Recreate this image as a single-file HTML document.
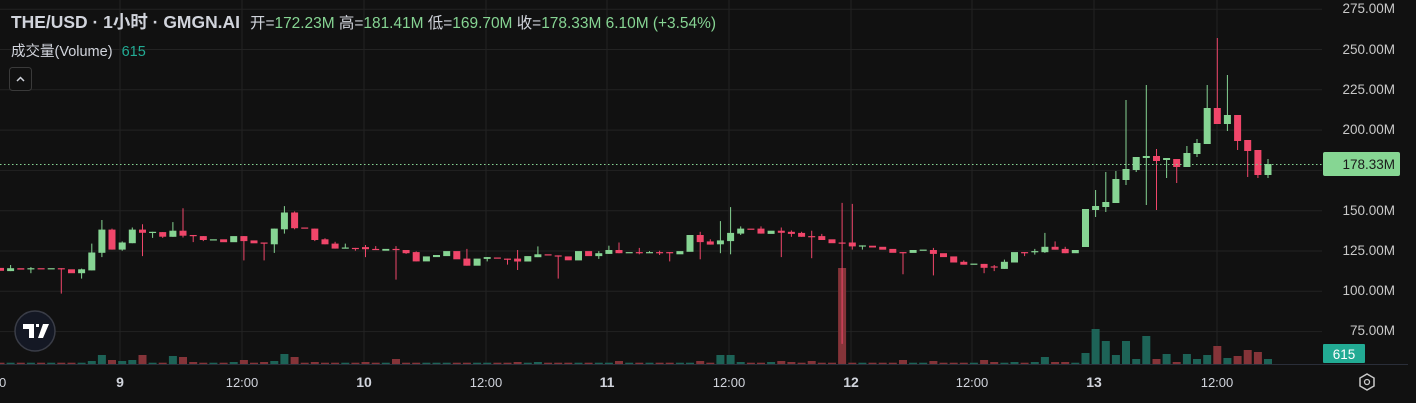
<!DOCTYPE html>
<html><head><meta charset="utf-8"><style>
html,body{margin:0;padding:0;background:#111111;width:1416px;height:403px;overflow:hidden}
#c{position:absolute;left:0;top:0}
.t{font-family:"Liberation Sans","Noto Sans CJK SC",sans-serif}
</style></head><body>
<svg id="c" width="1416" height="403" xmlns="http://www.w3.org/2000/svg"></svg>
<script>
const S=document.getElementById('c');let h='';
h+='<rect width="1416" height="403" fill="#111111"/>';
for(let p=275;p>=50;p-=25){const y=49.5+(250-p)*1.612;if(y<364)h+=`<line x1="0" x2="1322" y1="${y.toFixed(1)}" y2="${y.toFixed(1)}" stroke="#232323"/>`;}
[-1,120,242,364,486,607,729,851,972,1094,1217].forEach(x=>{h+=`<line x1="${x}" x2="${x}" y1="0" y2="364" stroke="#232323"/>`;});
const A=[
['r',218,226],['g',219,227,210,227],['r',219,223],['g',219,220,216,233],['r',219,220],['g',219,220],['r',219,220,219,290],['r',222,233],['g',222,233,220,248],['g',175,225,150,225],
['g',111,176,84,188],['r',111,167,108,167],['g',147,167,144,170],['g',111,149,105,149],['r',111,120,96,185],['g',117,119,117,134],['r',118,131,118,134],['g',114,131,90,131],['r',114,128,51,133],['r',126,128,126,146],
['r',129,140,129,143],['g',138,140],['r',138,146],['g',129,146],['r',129,143,129,197],['r',141,149],['r',147,149,147,197],['g',108,152,108,176],['g',63,110,45,122],['r',63,107,60,110],
['r',105,107],['r',108,140,108,143],['r',138,152,135,152],['r',150,164,145,164],['g',161,163,150,163],['r',162,164,162,170],['r',160,166,154,188],['r',165,167,157,167],['g',165,170],['r',165,167,157,251],
['r',168,177,168,179],['r',174,200,172,200],['g',186,200],['g',182,188],['g',171,185],['r',171,194],['r',192,212,165,212],['g',192,212],['g',188,193,188,200],['r',189,191],
['r',192,194,192,209],['r',192,200,168,224],['g',185,200],['g',180,188,158,188],['r',180,182],['r',183,185,183,248],
['r',186,197],['g',171,197],['r',171,185],['g',177,185,171,193],['g',168,179,156,179],['r',168,177,147,177],['g',174,176],['r',174,176,162,180],['g',174,176,171,176],['r',174,176,170,182],
['r',174,176,174,200],['g',171,180],['g',126,173],['r',126,146,117,194],['r',144,153,138,153],['g',141,152,87,177],['g',120,143,48,180],['g',108,122,102,126],['r',108,110],['r',108,122,102,122],
['g',114,123],['r',114,120,105,188],['r',117,123,113,131],['r',120,131,117,131],['r',129,131,114,191],['r',129,140,123,140],['r',138,149],['r',147,149,36,431],['r',147,158,39,167],['g',155,157,155,167],
['r',156,161],['r',159,167],['r',165,176],['r',174,176,174,236],['g',168,176],['g',167,169],['r',168,179,162,239],['r',177,188],['r',186,203],['r',201,209,197,209],
['g',206,208],['r',207,218,207,233],['r',214,216,210,227],['g',201,221,195,221],['g',174,203],['r',174,176,174,185],['g',171,173,165,181],['g',159,174,120,176],['r',159,167,144,167],['r',165,177,159,177],['g',168,177]
];
const B=[['g',209,247],['g',206,210,190,217],['g',202,207,172,212],['g',179,203,171,203],['g',169,180,100,185],['g',157,170,157,172],['g',156,158,85,205],['r',156,161,149,210],['g',158,160,158,178],['r',159,167,159,183],['g',153,167,146,167],['g',143,154,139,157],['g',108,144,85,144],['r',108,124,38,124],['g',115,124,75,131],['r',115,141,115,150],['r',140,151,140,177],['r',150,175,150,178],['g',164,175,159,178]];
const C=[];A.forEach(a=>{C.push([a[0],...a.slice(1).map(v=>190+v/2.8)]);});
B.forEach(b=>C.push(b));
const V={9:3,10:9,11:4,12:3,13:4,14:9,17:8,18:7,19:2,23:2,24:4,26:2,27:3,28:10,29:7,31:2,36:2,39:5,51:2,53:2,61:3,69:3,71:9,72:9,73:2,76:2,77:3,78:2,80:3,83:96,89:4,92:3,97:4,98:2,100:2,102:2,103:7,104:2,105:2,107:11,108:35,109:23,110:9,111:23,112:5,113:28,114:5,115:10,116:2,117:10,118:5,119:9,120:18,121:6,122:8,123:14,124:12,125:5};
let vol='',cnd='';
C.forEach((c,i)=>{const x=0.5+i*10.14;const col=c[0]=='g'?'#86d493':'#f0466a';const vc=c[0]=='g'?'#1d6357':'#853439';
 const vh=V[i]||1.3;vol+=`<rect x="${(x-4).toFixed(1)}" y="${(364-vh).toFixed(1)}" width="8" height="${vh}" fill="${vc}"/>`;
 const t=c[1],b=Math.max(c[2],c[1]+1.2),wt=c[3]!==undefined?c[3]:t,wb=c[4]!==undefined?c[4]:b;
 if(wt<t||wb>b)cnd+=`<line x1="${x.toFixed(1)}" x2="${x.toFixed(1)}" y1="${wt.toFixed(1)}" y2="${wb.toFixed(1)}" stroke="${col}" stroke-width="1"/>`;
 cnd+=`<rect x="${(x-3.5).toFixed(1)}" y="${t.toFixed(1)}" width="7" height="${(b-t).toFixed(1)}" fill="${col}"/>`;});
h+=vol+cnd;
h+='<line x1="0" x2="1322" y1="164.5" y2="164.5" stroke="#86d493" stroke-dasharray="1.5 2.5"/>';
h+='<line x1="0" x2="1408" y1="364.5" y2="364.5" stroke="#2a2e39"/>';
[[275,8],[250,49],[225,89],[200,129],[150,210],[125,250],[100,290],[75,330]].forEach(([p,y])=>{h+=`<text class="t" x="1395" y="${y+5}" text-anchor="end" font-size="13.5" fill="#c9c9c9">${p}.00M</text>`;});
h+='<rect x="1323" y="152" width="77" height="24" rx="2" fill="#86d693"/><text class="t" x="1395" y="169" text-anchor="end" font-size="13.5" fill="#1a1a1a">178.33M</text>';
h+='<rect x="1323" y="344" width="42" height="19" rx="1" fill="#22ab94"/><text class="t" x="1344" y="359" text-anchor="middle" font-size="13.5" fill="#ffffff">615</text>';
[['00',-1],['9',120],['12:00',242],['10',364],['12:00',486],['11',607],['12:00',729],['12',851],['12:00',972],['13',1094],['12:00',1217]].forEach(([s,x])=>{const b=s.length<3&&s!='00';h+=`<text class="t" x="${x}" y="387" text-anchor="middle" font-size="${b?14:13}" font-weight="${b?'bold':'normal'}" fill="#d1d4dc">${s}</text>`;});
h+='<polygon points="1367,374 1374,378 1374,386 1367,390 1360,386 1360,378" fill="none" stroke="#c9c9c9" stroke-width="1.5"/><circle cx="1367" cy="382" r="2.5" fill="none" stroke="#c9c9c9" stroke-width="1.3"/>';
h+='<circle cx="35" cy="331" r="20" fill="#141824" stroke="#3a3d47" stroke-width="1.5"/><path d="M23 324h11v14h-5v-9h-6z M36 324h3v3h-3z M43 324h6l-6 14h-5z" fill="#ffffff"/>';
h+='<text class="t" x="11" y="28" font-size="17.5" font-weight="bold" fill="#d1d4dc" textLength="229" lengthAdjust="spacingAndGlyphs">THE/USD · 1小时 · GMGN.AI</text>';
h+='<text class="t" x="250" y="28" font-size="15.5" fill="#d1d4dc" textLength="466" lengthAdjust="spacingAndGlyphs">开=<tspan fill="#86d493">172.23M</tspan> 高=<tspan fill="#86d493">181.41M</tspan> 低=<tspan fill="#86d493">169.70M</tspan> 收=<tspan fill="#86d493">178.33M 6.10M (+3.54%)</tspan></text>';
h+='<text class="t" x="11" y="56" font-size="14.5" fill="#d1d4dc">成交量(Volume) <tspan fill="#22ab94" dx="5">615</tspan></text>';
h+='<rect x="9.5" y="67.5" width="22" height="23" rx="3" fill="#111111" stroke="#3a3a3a"/><path d="M17 81l3.5-3.5 3.5 3.5" fill="none" stroke="#d1d4dc" stroke-width="1.5"/>';
S.innerHTML=h;
</script>
</body></html>
